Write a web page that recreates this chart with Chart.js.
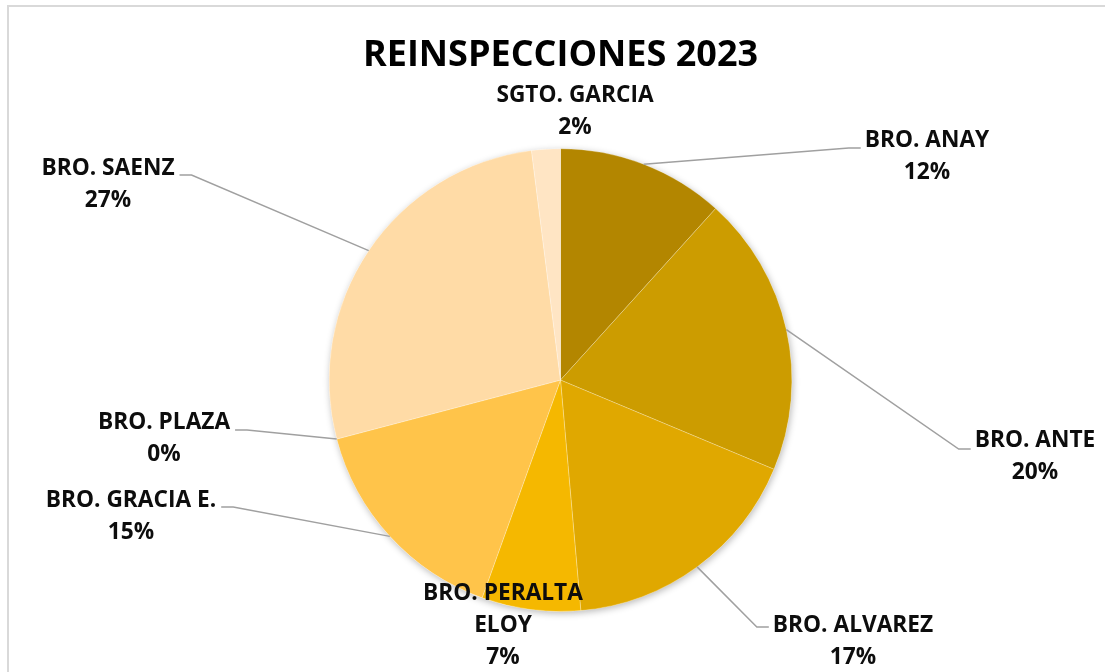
<!DOCTYPE html>
<html>
<head>
<meta charset="utf-8">
<script src="https://cdn.jsdelivr.net/npm/chart.js@4.4.1/dist/chart.umd.min.js"></script>
<style>
  html, body { margin: 0; padding: 0; background: #fff; overflow: hidden; }
  #wrap { position: relative; width: 1105px; height: 672px; }
  #frame { position: absolute; left: 7px; top: 5px; width: 1200px; height: 800px; border: 2px solid #d9d9d9; box-sizing: border-box; pointer-events: none; }
  canvas { position: absolute; left: 0; top: 0; }
</style>
</head>
<body>
<div id="wrap">
  <div id="frame"></div>
  <canvas id="c" width="1105" height="672"></canvas>
</div>
<script>
// ---- data ----
const chartTitle = 'REINSPECCIONES 2023';
const categories = ['BRO. ANAY', 'BRO. ANTE', 'BRO. ALVAREZ', 'BRO. PERALTA ELOY', 'BRO. GRACIA E.', 'BRO. PLAZA', 'BRO. SAENZ', 'SGTO. GARCIA'];
const shares = [11.7, 19.6, 17.3, 6.9, 15.4, 0, 27.1, 2.0];
const sliceColors = ['#B38600', '#CC9C00', '#E0A800', '#F5B800', '#FFC44A', '#FFD07A', '#FFDBA6', '#FFE5C4'];

// ---- label layout (positions of the data labels, not data) ----
const labelFont = 'bold 22.7px "Open Sans"';
const labelLineH = 32;
const labelLayout = [
  { x: 927, y: 141, ly: 148, side: 'right' },
  { x: 1035, y: 441, ly: 449, side: 'right' },
  { x: 853, y: 626, ly: 627, side: 'right' },
  { x: 503, y: 594, side: 'none', lines: ['BRO. PERALTA', 'ELOY'] },
  { x: 131, y: 501, ly: 507, side: 'left' },
  { x: 164, y: 423, ly: 430, side: 'left' },
  { x: 108, y: 169, ly: 175, side: 'left' },
  { x: 575, y: 96, side: 'none' }
];

const pieShadow = {
  id: 'pieShadow',
  beforeDatasetsDraw(chart) {
    const arc = chart.getDatasetMeta(0).data[0];
    if (!arc) return;
    const ctx = chart.ctx;
    ctx.save();
    ctx.shadowColor = 'rgba(0,0,0,0.28)';
    ctx.shadowBlur = 7;
    ctx.shadowOffsetX = 1;
    ctx.shadowOffsetY = 2;
    ctx.fillStyle = '#ffffff';
    ctx.beginPath();
    ctx.arc(arc.x, arc.y, arc.outerRadius, 0, Math.PI * 2);
    ctx.fill();
    ctx.restore();
  }
};

const pieLabels = {
  id: 'pieLabels',
  afterDatasetsDraw(chart) {
    const ctx = chart.ctx;
    const meta = chart.getDatasetMeta(0);
    const data = chart.data.datasets[0].data;
    const total = data.reduce((a, b) => a + b, 0);
    ctx.save();
    ctx.font = labelFont;
    ctx.textAlign = 'center';
    ctx.textBaseline = 'middle';
    meta.data.forEach((arc, i) => {
      const L = labelLayout[i];
      const pct = Math.round(data[i] / total * 100) + '%';
      const nameLines = L.lines || [chart.data.labels[i]];
      const lines = nameLines.concat([pct]);
      if (L.side !== 'none') {
        const mid = (arc.startAngle + arc.endAngle) / 2;
        const ax = arc.x + Math.cos(mid) * arc.outerRadius;
        const ay = arc.y + Math.sin(mid) * arc.outerRadius;
        const nameW = ctx.measureText(nameLines[0]).width;
        let endX, elbowX;
        if (L.side === 'right') {
          endX = L.x - nameW / 2 - 4;
          elbowX = endX - 12;
        } else {
          endX = L.x + nameW / 2 + 5;
          elbowX = endX + 12;
        }
        ctx.strokeStyle = '#a0a0a0';
        ctx.lineWidth = 1.5;
        ctx.beginPath();
        ctx.moveTo(ax, ay);
        ctx.lineTo(elbowX, L.ly);
        ctx.lineTo(endX, L.ly);
        ctx.stroke();
      }
      ctx.fillStyle = '#0d0d0d';
      lines.forEach((t, k) => ctx.fillText(t, L.x, L.y + k * labelLineH));
    });
    ctx.restore();
  }
};

new Chart(document.getElementById('c'), {
  type: 'pie',
  data: {
    labels: categories,
    datasets: [{
      data: shares,
      backgroundColor: sliceColors,
      borderColor: 'rgba(255,255,255,0.25)',
      borderWidth: 1
    }]
  },
  options: {
    responsive: false,
    animation: false,
    rotation: 0,
    layout: { padding: { left: 100, right: 84, top: 0, bottom: 60 } },
    plugins: {
      legend: { display: false },
      tooltip: { enabled: false },
      title: {
        display: true,
        text: chartTitle,
        color: '#000',
        font: { family: 'Open Sans', size: 36, weight: 'bold' },
        padding: { top: 34, bottom: 71 }
      }
    }
  },
  plugins: [pieShadow, pieLabels]
});
</script>
</body>
</html>
